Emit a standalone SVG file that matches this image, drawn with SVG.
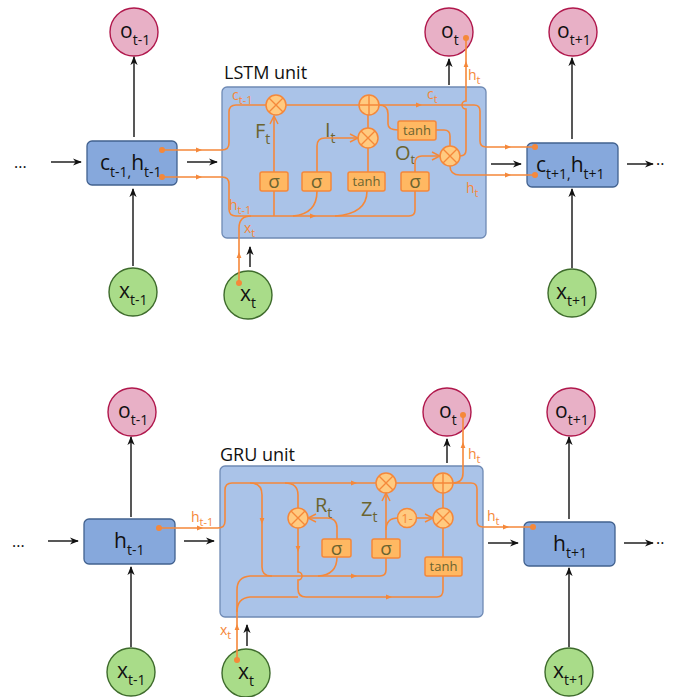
<svg xmlns="http://www.w3.org/2000/svg" width="673" height="697" viewBox="0 0 673 697">
<style>
text{font-family:"Open Sans","Noto Sans","DejaVu Sans",sans-serif}
.unit{fill:#aac3e8;stroke:#6f8ab4;stroke-width:1.3}
.st{fill:#86a8dc;stroke:#41618f;stroke-width:1.3}
.o{fill:#e8b0c6;stroke:#b0174c;stroke-width:1.4}
.x{fill:#a9dc89;stroke:#3e6b2c;stroke-width:1.4}
.nl{font-size:21px;fill:#111}
.ns{font-size:14px}
.blk{stroke:#111;stroke-width:1.4;fill:none;marker-end:url(#ab)}
.or{stroke:#f5883a;stroke-width:1.6;fill:none}
.oa{stroke:#f5883a;stroke-width:1.6;fill:none;marker-end:url(#oc)}
.mid{stroke:#f5883a;stroke-width:1.6;fill:none;marker-end:url(#ot)}
.g{fill:#ffb862;stroke:#f5883a;stroke-width:1.5}
.op{fill:#ffca80;stroke:#f5883a;stroke-width:1.5}
.gt{fill:#6b6430;text-anchor:middle}
.sg{font-size:19px}
.th{font-size:13px}
.gl{font-size:20px;fill:#6b6430}
.gs{font-size:14px}
.ol{font-size:14px;fill:#f5883a}
.os{font-size:11px}
.dot{fill:#f5883a}
.ttl{font-size:18px;fill:#111}
</style>
<defs>
<marker id="ab" viewBox="0 0 10 10" refX="9" refY="5" markerWidth="9" markerHeight="9" markerUnits="userSpaceOnUse" orient="auto"><path d="M0,1 L10,5 L0,9 L3,5 Z" fill="#111"/></marker>
<marker id="oc" viewBox="0 0 10 10" refX="9" refY="5" markerWidth="10" markerHeight="10" markerUnits="userSpaceOnUse" orient="auto"><path d="M1,1 L9,5 L1,9" fill="none" stroke="#f5883a" stroke-width="1.5"/></marker>
<marker id="ot" viewBox="0 0 10 10" refX="5" refY="5" markerWidth="6" markerHeight="6" markerUnits="userSpaceOnUse" orient="auto"><path d="M0,1 L10,5 L0,9 Z" fill="#f5883a"/></marker>
<g id="opx"><circle r="10" class="op"/><path d="M-7,-7 L7,7 M-7,7 L7,-7" stroke="#f5883a" stroke-width="1.4"/></g>
<g id="opp"><circle r="10" class="op"/><path d="M-10,0 H10 M0,-10 V10" stroke="#f5883a" stroke-width="1.4"/></g>
</defs>

<!-- ================= LSTM ================= -->
<g id="lstm_unit">
<rect x="222" y="87" width="264" height="151" rx="5" class="unit"/>
<text x="224" y="79" class="ttl">LSTM unit</text>
</g>

<g id="lstm_o_prev"><circle cx="134" cy="32" r="24" class="o"/><text x="120" y="38" class="nl">o<tspan dy="7" class="ns">t-1</tspan></text></g>
<g id="lstm_o_t"><circle cx="449" cy="32" r="24" class="o"/><text x="441" y="38" class="nl">o<tspan dy="7" class="ns">t</tspan></text></g>
<g id="lstm_o_next"><circle cx="573" cy="32" r="24" class="o"/><text x="557" y="38" class="nl">o<tspan dy="7" class="ns">t+1</tspan></text></g>

<g id="lstm_x_prev"><circle cx="133" cy="292" r="24" class="x"/><text x="119" y="298" class="nl">x<tspan dy="7" class="ns">t-1</tspan></text></g>
<g id="lstm_x_t"><circle cx="248" cy="295" r="24" class="x"/><text x="240" y="301" class="nl">x<tspan dy="7" class="ns">t</tspan></text></g>
<g id="lstm_x_next"><circle cx="572" cy="293" r="24" class="x"/><text x="556" y="299" class="nl">x<tspan dy="7" class="ns">t+1</tspan></text></g>

<g id="lstm_state_prev"><rect x="87" y="141" width="90" height="44" rx="5" class="st"/><text x="100" y="170" class="nl">c<tspan dy="7" class="ns">t-1,</tspan><tspan dy="-7">h</tspan><tspan dy="7" class="ns">t-1</tspan></text></g>
<g id="lstm_state_next"><rect x="527" y="143" width="91" height="44" rx="5" class="st"/><text x="536" y="172" class="nl">c<tspan dy="7" class="ns">t+1,</tspan><tspan dy="-7">h</tspan><tspan dy="7" class="ns">t+1</tspan></text></g>

<g id="lstm_dots">
<text x="14" y="173" style="font-size:16px;fill:#111">···</text>
<text x="656" y="170" style="font-size:16px;fill:#111">··</text>
</g>

<g id="lstm_gates">
<rect x="260" y="172" width="28" height="19" rx="2" class="g"/><text x="274" y="188" class="gt sg">σ</text>
<rect x="302" y="172" width="29" height="19" rx="2" class="g"/><text x="316.5" y="188" class="gt sg">σ</text>
<rect x="348" y="172" width="37" height="19" rx="2" class="g"/><text x="366.5" y="186" class="gt th">tanh</text>
<rect x="401" y="172" width="28" height="19" rx="2" class="g"/><text x="415" y="188" class="gt sg">σ</text>
<rect x="398" y="121" width="38" height="19" rx="2" class="g"/><text x="417" y="135" class="gt th">tanh</text>
<use href="#opx" x="276" y="105"/>
<use href="#opp" x="369" y="105"/>
<use href="#opx" x="368" y="138"/>
<use href="#opx" x="450" y="156"/>
<text x="255" y="138" class="gl">F<tspan dy="6" class="gs">t</tspan></text>
<text x="325" y="137" class="gl">I<tspan dy="6" class="gs">t</tspan></text>
<text x="395" y="160" class="gl">O<tspan dy="4" style="font-size:13px">t</tspan></text>
<text x="232" y="100" class="ol">c<tspan dy="4" class="os">t-1</tspan></text>
<text x="427" y="99" class="ol">c<tspan dy="4" class="os">t</tspan></text>
<text x="229" y="210" class="ol">h<tspan dy="4" class="os">t-1</tspan></text>
<text x="244" y="233" class="ol">x<tspan dy="4" class="os">t</tspan></text>
<text x="468" y="80" class="ol">h<tspan dy="4" class="os">t</tspan></text>
<text x="466" y="193" class="ol">h<tspan dy="4" class="os">t</tspan></text>
</g>

<g id="lstm_connectors">
<path class="blk" d="M51,162 H81"/>
<path class="blk" d="M187,162 H217"/>
<path class="blk" d="M491,164 H521"/>
<path class="blk" d="M627,164 H653"/>
<path class="blk" d="M134,137 V57"/>
<path class="blk" d="M133,266 V189"/>
<path class="blk" d="M250,267 V247"/>
<path class="blk" d="M449,85 V59"/>
<path class="blk" d="M572,139 V58"/>
<path class="blk" d="M572,268 V189"/>

<path class="or" d="M162,150 H222 Q229,150 229,143 V112 Q229,105 236,105 H266"/>
<path class="or" d="M286,105 H359"/>
<path class="or" d="M379,105 H474 Q480,105 480,111 V141 Q480,147 486,147 H535"/>
<path class="or" d="M162,177 H222 Q229,177 229,184 V209 Q229,216 236,216 H409 Q415,216 415,210 V191"/>
<path class="or" d="M239,283 V228 Q239,216 251,216"/>
<path class="oa" d="M274,172 V116"/>
<path class="or" d="M274,191 V216"/>
<path class="oa" d="M317,172 V146 Q317,138 325,138 H358"/>
<path class="or" d="M317,191 Q317,214 293,216"/>
<path class="or" d="M367,191 Q367,214 335,216"/>
<path class="or" d="M368,172 V148"/>
<path class="or" d="M368,128 V115"/>
<path class="oa" d="M415,172 V163 Q415,156 422,156 H440"/>
<path class="or" d="M379,105 Q388,105 388,114 V124 Q388,130 398,130"/>
<path class="or" d="M436,130 H444 Q450,130 450,136 V146"/>
<path class="or" d="M460,156 Q466,156 466,150 V109 A4,4 0 0 1 466,101 V38"/>
<path class="or" d="M450,166 Q450,175 460,175 H535"/>
<circle cx="162" cy="150" r="3" class="dot"/>
<circle cx="162" cy="177" r="3" class="dot"/>
<circle cx="535" cy="147" r="3" class="dot"/>
<circle cx="535" cy="175" r="3" class="dot"/>
<circle cx="239" cy="283" r="3" class="dot"/>
<circle cx="466" cy="38" r="3" class="dot"/>
<path class="mid" d="M196,150 H199"/>
<path class="mid" d="M196,177 H199"/>
<path class="mid" d="M310,216 H313"/>
<path class="mid" d="M416,105 H419"/>
<path class="mid" d="M505,147 H508"/>
<path class="mid" d="M505,175 H508"/>
<path class="mid" d="M239,258 V255"/>
<path class="mid" d="M466,67 V64"/>
</g>

<!-- ================= GRU ================= -->
<g id="gru_unit">
<rect x="220" y="466" width="263" height="151" rx="5" class="unit"/>
<text x="220" y="461" class="ttl">GRU unit</text>
</g>

<g id="gru_o_prev"><circle cx="132" cy="412" r="24" class="o"/><text x="118" y="418" class="nl">o<tspan dy="7" class="ns">t-1</tspan></text></g>
<g id="gru_o_t"><circle cx="447" cy="412" r="24" class="o"/><text x="439" y="418" class="nl">o<tspan dy="7" class="ns">t</tspan></text></g>
<g id="gru_o_next"><circle cx="571" cy="412" r="24" class="o"/><text x="555" y="418" class="nl">o<tspan dy="7" class="ns">t+1</tspan></text></g>

<g id="gru_x_prev"><circle cx="131" cy="672" r="24" class="x"/><text x="117" y="678" class="nl">x<tspan dy="7" class="ns">t-1</tspan></text></g>
<g id="gru_x_t"><circle cx="246" cy="673" r="24" class="x"/><text x="238" y="679" class="nl">x<tspan dy="7" class="ns">t</tspan></text></g>
<g id="gru_x_next"><circle cx="569" cy="672" r="24" class="x"/><text x="553" y="678" class="nl">x<tspan dy="7" class="ns">t+1</tspan></text></g>

<g id="gru_state_prev"><rect x="84" y="519" width="91" height="45" rx="5" class="st"/><text x="114" y="548" class="nl">h<tspan dy="7" class="ns">t-1</tspan></text></g>
<g id="gru_state_next"><rect x="524" y="522" width="91" height="44" rx="5" class="st"/><text x="553" y="551" class="nl">h<tspan dy="7" class="ns">t+1</tspan></text></g>

<g id="gru_dots">
<text x="12" y="552" style="font-size:16px;fill:#111">···</text>
<text x="656" y="549" style="font-size:16px;fill:#111">··</text>
</g>

<g id="gru_gates">
<rect x="322" y="539" width="29" height="18" rx="2" class="g"/><text x="336.5" y="555" class="gt sg">σ</text>
<rect x="372" y="539" width="28" height="19" rx="2" class="g"/><text x="386" y="555" class="gt sg">σ</text>
<rect x="425" y="557" width="37" height="19" rx="2" class="g"/><text x="443.5" y="571" class="gt th">tanh</text>
<use href="#opx" x="298" y="518"/>
<use href="#opx" x="386" y="483"/>
<use href="#opp" x="443" y="483"/>
<use href="#opx" x="443" y="518"/>
<g id="gru_one_minus"><circle cx="407" cy="518" r="9.5" class="op"/><text x="407" y="523" style="font-size:13px;fill:#f5883a;text-anchor:middle">1-</text></g>
<text x="315" y="512" class="gl">R<tspan dy="6" class="gs">t</tspan></text>
<text x="361" y="516" class="gl">Z<tspan dy="6" class="gs">t</tspan></text>
<text x="191" y="522" class="ol">h<tspan dy="4" class="os">t-1</tspan></text>
<text x="487" y="521" class="ol">h<tspan dy="4" class="os">t</tspan></text>
<text x="468" y="459" class="ol">h<tspan dy="4" class="os">t</tspan></text>
<text x="220" y="635" class="ol">x<tspan dy="4" class="os">t</tspan></text>
</g>

<g id="gru_connectors">
<path class="blk" d="M48,541 H78"/>
<path class="blk" d="M184,541 H214"/>
<path class="blk" d="M488,543 H518"/>
<path class="blk" d="M624,543 H653"/>
<path class="blk" d="M131,517 V437"/>
<path class="blk" d="M131,647 V567"/>
<path class="blk" d="M247,646 V625"/>
<path class="blk" d="M447,463 V439"/>
<path class="blk" d="M569,519 V437"/>
<path class="blk" d="M569,647 V568"/>

<path class="or" d="M159,528 H218 Q225,528 225,521 V490 Q225,483 232,483 H376"/>
<path class="or" d="M396,483 H433"/>
<path class="or" d="M453,483 H471 Q477,483 477,489 V521 Q477,527 483,527 H533"/>
<path class="or" d="M453,483 Q463,483 463,473 V415"/>
<path class="or" d="M250,483 Q262,483 262,495 V567 Q262,576 271,576 H380 Q386,576 386,570 V558"/>
<path class="or" d="M285,483 Q298,483 298,495 V508"/>
<path class="or" d="M298,528 V572 A4,4 0 0 1 298,580 V589 Q298,597 306,597 H437 Q443,597 443,590 V576"/>
<path class="or" d="M237,660 V590 Q237,577 250,576 H272"/>
<path class="or" d="M237,612 Q237,598 250,597 H298"/>
<path class="oa" d="M337,539 V528 Q337,518 327,518 H308"/>
<path class="or" d="M337,557 Q337,575 318,576"/>
<path class="oa" d="M386,539 V493"/>
<path class="or" d="M386,530 Q386,518 398,518"/>
<path class="oa" d="M416,518 H433"/>
<path class="or" d="M443,508 V493"/>
<path class="or" d="M443,528 V557"/>
<circle cx="159" cy="528" r="3" class="dot"/>
<circle cx="533" cy="527" r="3" class="dot"/>
<circle cx="463" cy="415" r="3" class="dot"/>
<circle cx="237" cy="660" r="3" class="dot"/>
<path class="mid" d="M197,528 H200"/>
<path class="mid" d="M351,483 H354"/>
<path class="mid" d="M503,527 H506"/>
<path class="mid" d="M463,448 V445"/>
<path class="mid" d="M262,518 V521"/>
<path class="mid" d="M298,546 V549"/>
<path class="mid" d="M351,576 H354"/>
<path class="mid" d="M386,597 H389"/>
<path class="mid" d="M237,630 V627"/>
</g>
</svg>
